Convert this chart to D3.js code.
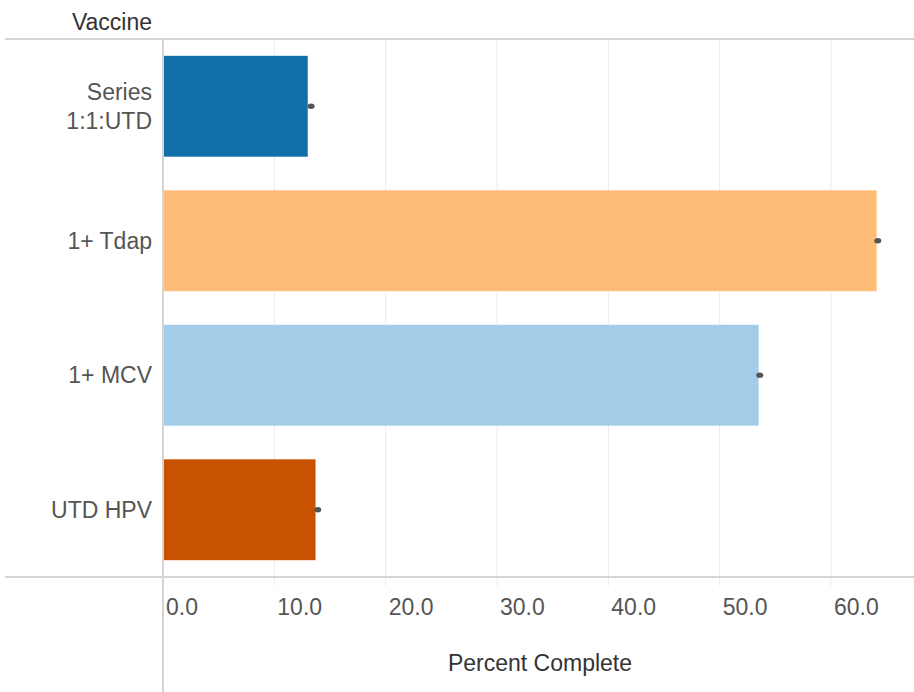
<!DOCTYPE html>
<html>
<head>
    <script src="https://d3js.org/d3.v7.min.js"></script>
    <style>
        body { margin: 0; background: #fff; }
        text { font-family: "Liberation Sans", Arial, sans-serif; }
    </style>
</head>
<body>
    <script>
        // Data
        var vaccines = ["Series 1:1:UTD", "1+ Tdap", "1+ MCV", "UTD HPV"];
        var percents = [13.0, 64.1, 53.5, 13.7];
        var markers = [13.3, 64.2, 53.6, 13.9];
        var colors = ["#1170aa", "#ffbc79", "#a3cce9", "#c85200"];
        var ticks = [0, 10, 20, 30, 40, 50, 60];

        var width = 914, height = 692;
        var plotLeft = 163, plotTop = 39, plotBottom = 577;

        var svg = d3.select("body").append("svg")
            .attr("width", width)
            .attr("height", height);

        var x = d3.scaleLinear().domain([0, 60]).range([plotLeft, 831]);
        var y = d3.scaleBand().domain(vaccines).range([plotTop, plotBottom]).paddingInner(0.25).paddingOuter(0.125);

        // gridlines
        svg.selectAll(".grid")
            .data(ticks.slice(1))
            .enter().append("line")
            .attr("x1", function (d) { return x(d); })
            .attr("x2", function (d) { return x(d); })
            .attr("y1", plotTop)
            .attr("y2", plotBottom + 9)
            .style("stroke", "#ebebeb")
            .style("stroke-width", 1);

        // bars
        svg.selectAll(".bar")
            .data(vaccines)
            .enter().append("rect")
            .attr("x", x(0))
            .attr("y", function (d) { return y(d); })
            .attr("width", function (d, i) { return x(percents[i]) - x(0); })
            .attr("height", y.bandwidth())
            .style("fill", function (d, i) { return colors[i]; });

        // small markers
        svg.selectAll(".dot")
            .data(vaccines)
            .enter().append("ellipse")
            .attr("cx", function (d, i) { return x(markers[i]); })
            .attr("cy", function (d) { return y(d) + y.bandwidth() / 2; })
            .attr("rx", 3.5)
            .attr("ry", 2.8)
            .style("fill", "#555");

        // frame lines
        svg.append("line").attr("x1", 5).attr("x2", width).attr("y1", plotTop).attr("y2", plotTop)
            .style("stroke", "#d4d4d4").style("stroke-width", 2);
        svg.append("line").attr("x1", 5).attr("x2", width).attr("y1", plotBottom).attr("y2", plotBottom)
            .style("stroke", "#d4d4d4").style("stroke-width", 2);
        svg.append("line").attr("x1", plotLeft).attr("x2", plotLeft).attr("y1", plotTop).attr("y2", height)
            .style("stroke", "#d4d4d4").style("stroke-width", 2);

        // header
        svg.append("text")
            .attr("x", 152).attr("y", 30)
            .attr("text-anchor", "end")
            .style("font-size", "23px")
            .style("fill", "#333")
            .text("Vaccine");

        // row labels
        var rows = svg.selectAll(".lab")
            .data(vaccines)
            .enter().append("text")
            .attr("text-anchor", "end")
            .style("font-size", "23px")
            .style("fill", "#555")
            .attr("y", function (d) { return y(d) + y.bandwidth() / 2; });
        rows.each(function (d) {
            var t = d3.select(this);
            var parts = d === "Series 1:1:UTD" ? ["Series", "1:1:UTD"] : [d];
            parts.forEach(function (p, k) {
                t.append("tspan")
                    .attr("x", 152)
                    .attr("dy", parts.length === 1 ? "0.35em" : (k === 0 ? "-0.28em" : "1.28em"))
                    .text(p);
            });
        });

        // tick labels
        svg.selectAll(".tick")
            .data(ticks)
            .enter().append("text")
            .attr("x", function (d) { return x(d) + 3; })
            .attr("y", 615)
            .style("font-size", "23px")
            .style("fill", "#555")
            .text(function (d) { return d3.format(".1f")(d); });

        // axis title
        svg.append("text")
            .attr("x", 540).attr("y", 671)
            .attr("text-anchor", "middle")
            .style("font-size", "23px")
            .style("fill", "#333")
            .text("Percent Complete");
    </script>
</body>
</html>
